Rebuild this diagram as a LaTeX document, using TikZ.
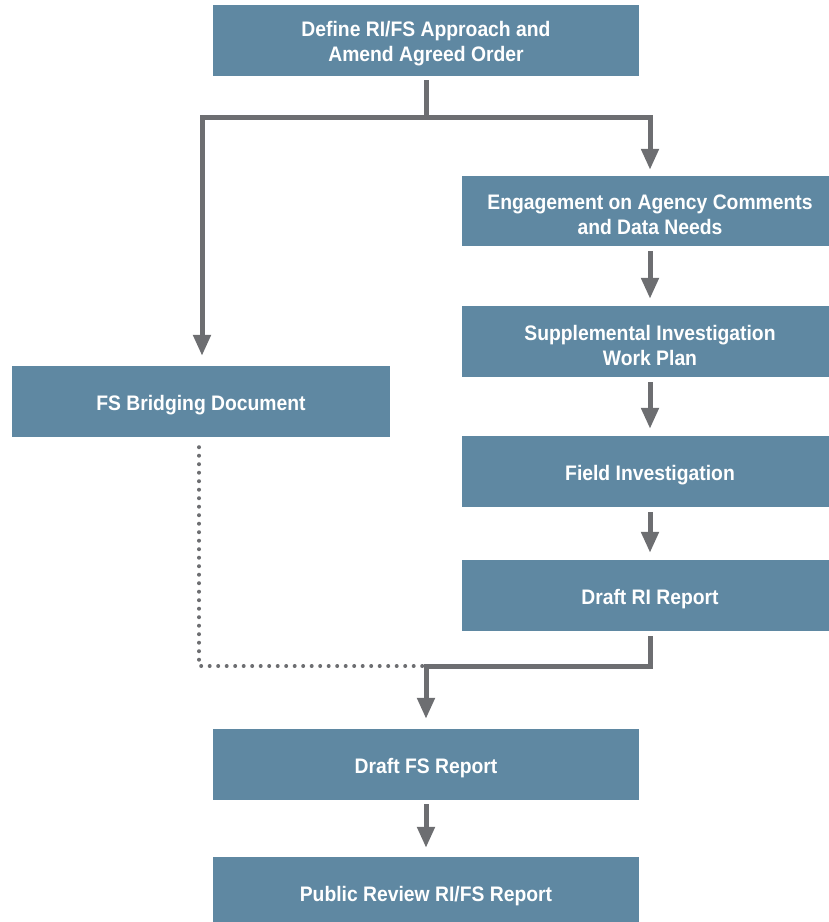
\documentclass[tikz,border=0pt]{standalone}
\usepackage{fontspec}
\newfontfamily\boxfont{Liberation Sans}[FakeStretch=0.92]
\usetikzlibrary{arrows.meta}
\definecolor{boxblue}{HTML}{5F88A2}
\definecolor{linegray}{HTML}{6D6E71}
\tikzset{
  boxtext/.style={text=white, align=center, inner sep=0pt,
    font=\boxfont\bfseries\fontsize{21}{25}\selectfont},
  stepbox/.style={rectangle, fill=boxblue, draw=none, inner sep=0pt, minimum height=71pt,
    label={[boxtext,yshift=-3.5pt]center:{#1}}},
  wide/.style={minimum width=426pt},
  rwide/.style={minimum width=376pt},
  lwide/.style={minimum width=378pt},
  conn/.style={draw=linegray, line width=5pt, line join=miter},
  arr/.style={conn, -{Triangle[width=17pt,length=21pt]}},
  dots/.style={draw=linegray, line width=4pt, line cap=round, dash pattern=on 0pt off 8.5pt}
}
\begin{document}
\begin{tikzpicture}[x=1pt,y=-1pt]
\useasboundingbox (0,0) rectangle (829,922);
\clip (0,0) rectangle (829,922);
\node[stepbox={Define RI/FS Approach and\\Amend Agreed Order},wide] (top) at (426,40.5) {};
\node[stepbox={Engagement on Agency Comments\\and Data Needs},rwide,minimum height=70pt] (eng) at (650,211) {};
\node[stepbox={Supplemental Investigation\\Work Plan},rwide] (sup) at (650,341.5) {};
\node[stepbox={Field Investigation},rwide] (field) at (650,471.5) {};
\node[stepbox={Draft RI Report},rwide] (dri) at (650,595.5) {};
\node[stepbox={FS Bridging Document},lwide] (fsb) at (201,401.5) {};
\node[stepbox={Draft FS Report},wide] (dfs) at (426,764.5) {};
\node[stepbox={Public Review RI/FS Report},wide] (pub) at (426,892.5) {};
\coordinate (split) at (426,117);
\coordinate (merge) at (426,666);
\draw[conn] ([yshift=-4pt]top.south) -- (split);
\draw[arr] (split) -| ([xshift=1pt,yshift=10pt]fsb.north);
\draw[arr] (split) -| ([yshift=6pt]eng.north);
\draw[arr] ([yshift=-5pt]eng.south) -- ([yshift=7pt]sup.north);
\draw[arr] ([yshift=-5pt]sup.south) -- ([yshift=7pt]field.north);
\draw[arr] ([yshift=-5pt]field.south) -- ([yshift=7pt]dri.north);
\draw[dots] ([xshift=-2pt,yshift=-10pt]fsb.south) |- ([xshift=-3pt]merge);
\draw[arr] ([yshift=-5pt]dri.south) |- (merge) -- ([yshift=10pt]dfs.north);
\draw[arr] ([yshift=-4pt]dfs.south) -- ([yshift=9pt]pub.north);
\end{tikzpicture}
\end{document}
